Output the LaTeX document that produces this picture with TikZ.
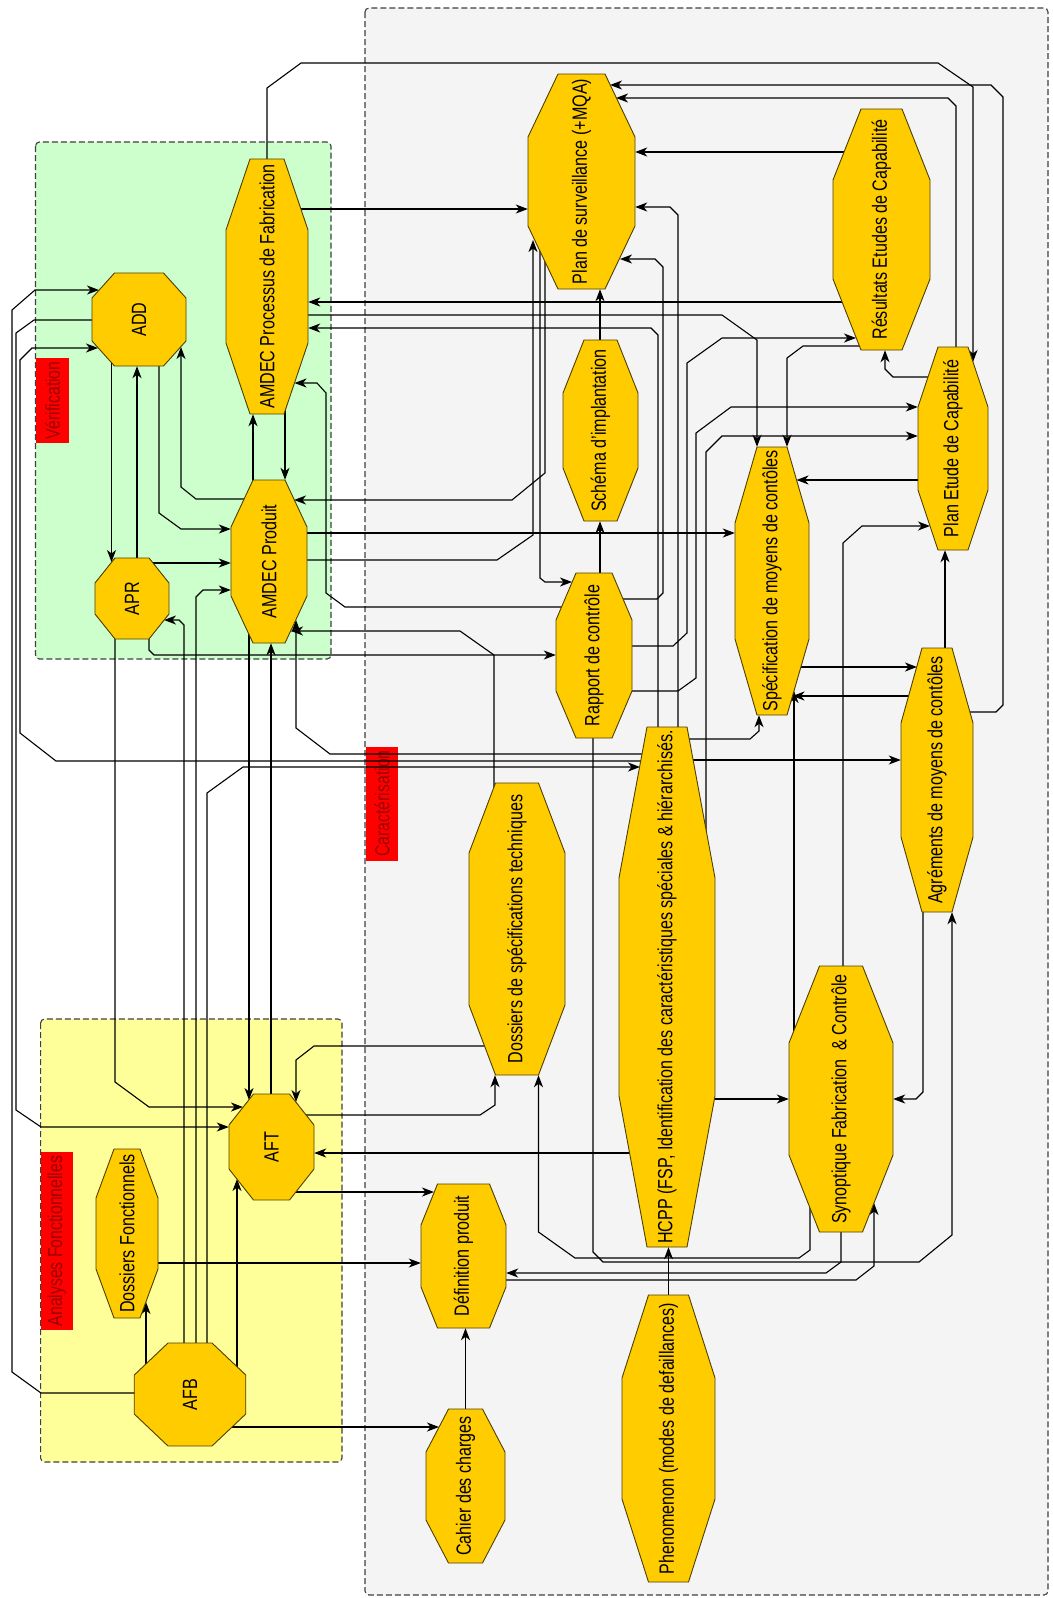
\documentclass[tikz,border=0pt]{standalone}
\usepackage{fontspec}
\setmainfont{Liberation Sans}
\usepackage{graphicx}
\usetikzlibrary{arrows.meta,calc}
\definecolor{gold}{HTML}{FFCC00}
\definecolor{nodeline}{HTML}{4D4000}
\definecolor{greenbg}{HTML}{CCFFCC}
\definecolor{yellowbg}{HTML}{FFFF99}
\definecolor{greybg}{HTML}{F4F4F4}
\definecolor{lblred}{HTML}{FF0000}
\definecolor{lbltext}{HTML}{990000}
\newcommand\rt[1]{\rotatebox{90}{\scalebox{1}[1.28]{#1}}}
% name, cx, cy, w, h, half top width, slant height, text
\newcommand\gnode[8]{%
  \filldraw[gnodeshape] (#2-#4/2,#3-#5/2+#7) -- (#2-#6,#3-#5/2) -- (#2+#6,#3-#5/2) -- (#2+#4/2,#3-#5/2+#7) -- (#2+#4/2,#3+#5/2-#7) -- (#2+#6,#3+#5/2) -- (#2-#6,#3+#5/2) -- (#2-#4/2,#3+#5/2-#7) -- cycle;
  \node[gtext,minimum width=#4,minimum height=#5] (#1) at (#2,#3) {\rt{#8}};}
\pgfdeclarelayer{bg}
\pgfdeclarelayer{wires}
\pgfsetlayers{bg,wires,main}
\tikzset{
 gnodeshape/.style={fill=gold,draw=nodeline,line width=0.9pt},
 gtext/.style={inner sep=0pt,font=\fontsize{16.1}{19}\selectfont},
 conn/.style={line width=1.1pt,-{Stealth[length=12pt,width=9pt,inset=3.5pt]}},
 zone/.style={draw=black!75,dash pattern=on 6pt off 3pt,line width=1.1pt,rounded corners=4pt},
 lbl/.style={fill=lblred,text=lbltext,inner sep=0pt,font=\fontsize{15.8}{18}\selectfont},
}
\begin{document}
\begin{tikzpicture}[x=1pt,y=-1pt]
\useasboundingbox (0,0) rectangle (1052,1598);
% ---------- nodes ----------
\gnode{add}{139}{319.5}{94}{93}{24.5}{25}{ADD}
\gnode{apr}{132}{598.5}{74}{81}{17}{25}{APR}
\gnode{amf}{267}{286.5}{82}{255}{17}{71}{AMDEC Processus de Fabrication}
\gnode{amp}{269}{561.5}{76}{163}{16}{47}{AMDEC Produit}
\gnode{ps}{581.5}{181.5}{107}{215}{23.5}{63}{Plan de surveillance (+MQA)}
\gnode{res}{881.5}{229.5}{97}{241}{20.5}{71}{Résultats Etudes de Capabilité}
\gnode{sch}{600.5}{430.5}{75}{181}{16.5}{53}{Schéma d'implantation}
\gnode{pec}{953}{448.5}{70}{203}{15}{60}{Plan Etude de Capabilité}
\gnode{rap}{594}{655.5}{76}{165}{18}{47}{Rapport de contrôle}
\gnode{spec}{772}{581}{74}{268}{15}{76}{Spécification de moyens de contôles}
\gnode{agr}{937}{780}{72}{264}{15}{75}{Agréments de moyens de contôles}
\gnode{dst}{517}{929}{96}{292}{21.5}{70}{Dossiers de spécifications techniques}
\gnode{hcpp}{667}{987}{96}{520}{20}{151}{HCPP (FSP, Identification des caractéristiques spéciales \& hiérarchisés.}
\gnode{syn}{841}{1099}{104}{266}{21.5}{77}{Synoptique Fabrication\ \ \& Contrôle}
\gnode{aft}{271.5}{1147}{85}{106}{18}{31}{AFT}
\gnode{def}{463.5}{1256}{85}{144}{26}{41}{Définition produit}
\gnode{cdc}{465.5}{1486}{79}{154}{17}{43}{Cahier des charges}
\gnode{phe}{668.5}{1438.5}{93}{287}{20}{83}{Phenomenon (modes de defaillances)}
\gnode{afb}{190}{1394.5}{111.5}{103}{22}{32}{AFB}
\gnode{dfo}{127}{1233.5}{62}{169}{13}{49}{Dossiers Fonctionnels}
% ---------- zones and labels ----------
\begin{pgfonlayer}{bg}
\fill[white] (0,0) rectangle (1052,1598);
\filldraw[zone,fill=greybg] (365,8) rectangle (1048,1595);
\filldraw[zone,fill=greenbg] (35.5,142) rectangle (331,659);
\filldraw[zone,fill=yellowbg] (40.6,1019) rectangle (342,1462);
\node[lbl,minimum width=33,minimum height=85] (lv) at (52.5,400.5) {\rt{Vérification}};
\node[lbl,minimum width=32,minimum height=114] (lc) at (382,803.5) {\rt{Caractérisation}};
\node[lbl,minimum width=32,minimum height=178] (la) at (57,1241) {\rt{Analyses Fonctionnelles}};
\end{pgfonlayer}
% ---------- connectors ----------
\begin{pgfonlayer}{wires}
\draw[conn] (amf.north) -- (267,88) -- (301,63) -- (938,63) -- (973,87) -- (973,362);
\draw[conn] (agr.center |- 0,712) -- (996,712) -- (1003,705) -- (1003,97) -- (991,85) -- (610,85);
\draw[conn] (pec.center -| 956,0) -- (956,106) -- (948,98) -- (616,98);
\draw[conn] (res.center |- 0,152) -- (ps.east |- 0,152);
\draw[conn] (hcpp.center -| 678,0) -- (678,215) -- (670,207) -- (ps.east |- 0,207);
\draw[conn] (rap.center |- 0,599) -- (657,599) -- (663,593) -- (663,267) -- (655,259) -- (620,259);
\draw[conn] (hcpp.center -| 658,0) -- (658,335) -- (651,328) -- (amf.east |- 0,328);
\draw[conn] (res.center |- 0,302) -- (amf.east |- 0,302);
\draw[conn] (amf.center |- 0,315) -- (722,315) -- (757,340) -- (spec.north -| 757,0);
\draw[conn] (rap.center |- 0,646) -- (673,646) -- (687,633) -- (687,363) -- (722,338) -- (856,338);
\draw[conn] (res.center |- 0,346) -- (803,346) -- (787,358) -- (spec.north -| 787,0);
\draw[conn] (rap.center |- 0,691) -- (678,691) -- (696,678) -- (696,433) -- (731,407) -- (pec.west |- 0,407);
\draw[conn] (hcpp.center -| 706,0) -- (706,452) -- (722,436) -- (pec.west |- 0,436);
\draw[conn] (amp.center |- 0,560) -- (497,560) -- (533,535) -- (533,240);
\draw[conn] (ps.center -| 540,0) -- (540,578) -- (545,582) -- (572,582);
\draw[conn] (ps.center -| 545,0) -- (545,473) -- (512,500) -- (294,500);
\draw[conn] (amp.center |- 0,533) -- (spec.west |- 0,533);
\draw[conn] (amp.center -| 253,0) -- (amf.south -| 253,0);
\draw[conn] (amf.center -| 285,0) -- (amp.north -| 285,0);
\draw[conn] (add.center -| 159,0) -- (159,513) -- (181,529) -- (amp.west |- 0,529);
\draw[conn] (amp.center |- 0,499) -- (196,499) -- (181,487) -- (181,347);
\draw[conn] (add.center -| 111.5,0) -- (111.5,562);
\draw[conn] (apr.center -| 137,0) -- (add.south -| 137,0);
\draw[conn] (apr.center |- 0,563) -- (amp.west |- 0,563);
\draw[conn] (afb.center -| 196,0) -- (196,597) -- (203,590) -- (amp.west |- 0,590);
\draw[conn] (afb.center -| 184,0) -- (184,625) -- (179,620) -- (164,620);
\draw[conn] (afb.center -| 207,0) -- (207,793) -- (243,767) -- (640,767);
\draw[conn] (hcpp.center |- 0,761) -- (56,761) -- (20,733) -- (20,360) -- (32,348) -- (98,348);
\draw[conn] (hcpp.center |- 0,754) -- (330,754) -- (296,728) -- (296,620);
\draw[conn] (dst.center -| 494,0) -- (494,655) -- (460,631) -- (291,631);
\draw[conn] (hcpp.center |- 0,760) -- (agr.west |- 0,760);
\draw[conn] (afb.center |- 0,1393) -- (41,1393) -- (12,1372) -- (12,310) -- (35,290) -- (99,290);
\draw[conn] (add.center |- 0,320) -- (34,320) -- (16,333) -- (16,1110) -- (41,1127) -- (aft.west |- 0,1127);
\draw[conn] (apr.center -| 115,0) -- (115,1082) -- (149,1107) -- (243,1107);
\draw[conn] (apr.center -| 149,0) -- (149,650) -- (154,655) -- (rap.west |- 0,655);
\draw[conn] (amp.center -| 249,0) -- (249,1100);
\draw[conn] (aft.center -| 271,0) -- (amp.south -| 271,0);
\draw[conn] (dst.center |- 0,1046) -- (314,1046) -- (296,1060) -- (296,1102);
\draw[conn] (aft.center |- 0,1115) -- (480,1115) -- (495,1105) -- (dst.south -| 495,0);
\draw[conn] (hcpp.center |- 0,1153) -- (aft.east |- 0,1153);
\draw[conn] (aft.center |- 0,1192) -- (434,1192);
\draw[conn] (dfo.center |- 0,1263) -- (def.west |- 0,1263);
\draw[conn] (afb.center -| 146,0) -- (146,1302);
\draw[conn] (afb.center |- 0,1427) -- (439,1427);
\draw[conn] (afb.center -| 237,0) -- (237,1179);
\draw[conn] (cdc.north) -- (cdc.north |- def.south);
\draw[conn] (phe.north) -- (phe.north |- hcpp.south);
\draw[conn] (hcpp.center |- 0,1099) -- (syn.west |- 0,1099);
\draw[conn] (agr.center -| 923,0) -- (923,1092) -- (916,1099) -- (syn.east |- 0,1099);
\draw[conn] (rap.center -| 593,0) -- (593,1252) -- (603,1262) -- (919,1262) -- (952,1235) -- (agr.south -| 952,0);
\draw[conn] (syn.center -| 810,0) -- (810,1250) -- (799,1258) -- (575,1258) -- (538.5,1232) -- (dst.south -| 538.5,0);
\draw[conn] (syn.center -| 841,0) -- (841,1262) -- (826,1273) -- (def.east |- 0,1273);
\draw[conn] (def.center |- 0,1280) -- (856,1280) -- (874,1266) -- (874,1203);
\draw[conn] (syn.center -| 843,0) -- (843,543) -- (862,526) -- (930,526);
\draw[conn] (syn.center -| 794,0) -- (794,691);
\draw[conn] (agr.center |- 0,696) -- (792.5,696);
\draw[conn] (spec.center |- 0,667) -- (917,667);
\draw[conn] (agr.center -| 945,0) -- (pec.south -| 945,0);
\draw[conn] (pec.center |- 0,480) -- (796.5,480);
\draw[conn] (pec.center |- 0,377) -- (893,377) -- (885,369) -- (res.south -| 885,0);
\draw[conn] (rap.center -| 600,0) -- (sch.south -| 600,0);
\draw[conn] (sch.center -| 600,0) -- (ps.south -| 600,0);
\draw[conn] (hcpp.center |- 0,739) -- (750,739) -- (759,731) -- (spec.south -| 759,0);
\draw[conn] (amf.center |- 0,209) -- (ps.west |- 0,209);
\draw[conn] (rap.center |- 0,607) -- (345,607) -- (326,593) -- (326,393) -- (317,383) -- (294.5,383);
\end{pgfonlayer}
\end{tikzpicture}
\end{document}
